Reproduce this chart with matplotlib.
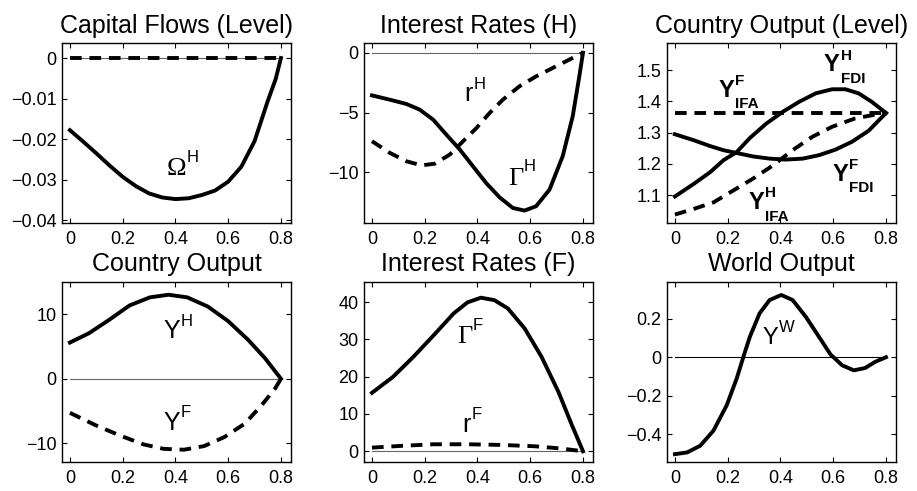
import numpy as np
import matplotlib
matplotlib.use('Agg')
import matplotlib.pyplot as plt

plt.rcParams.update({'font.family': 'Liberation Sans', 'font.size': 13,
                     'xtick.direction': 'in', 'ytick.direction': 'in',
                     'xtick.top': True, 'ytick.right': True,
                     'xtick.major.size': 3.5, 'ytick.major.size': 3.5,
                     'axes.linewidth': 1.0})

# Capital flows (level)
cf_x = [0, 0.05, 0.1, 0.15, 0.2, 0.25, 0.3, 0.35, 0.4, 0.45, 0.5, 0.55, 0.6, 0.65, 0.7, 0.75, 0.78, 0.8]
omega_h = [-0.0178, -0.0206, -0.0235, -0.0265, -0.0293, -0.0316, -0.0334, -0.0344, -0.0348, -0.0346,
           -0.0338, -0.0327, -0.0305, -0.0268, -0.0205, -0.0106, -0.0052, 0.0]
cf_dash = [0.0] * len(cf_x)

# Interest rates (H)
gh_x = [0, 0.068, 0.131, 0.181, 0.232, 0.282, 0.333, 0.383, 0.433, 0.484, 0.534, 0.578, 0.622,
        0.673, 0.723, 0.761, 0.786, 0.8]
gamma_h = [-3.57, -3.93, -4.29, -4.76, -5.6, -6.85, -8.1, -9.5, -10.9, -12.1, -12.98, -13.2, -12.84,
           -11.45, -8.66, -5.32, -1.98, 0.0]
rh_x = [0, 0.068, 0.131, 0.188, 0.238, 0.295, 0.345, 0.396, 0.446, 0.496, 0.559, 0.622, 0.685, 0.748, 0.8]
r_h = [-7.4, -8.38, -9.08, -9.42, -9.28, -8.52, -7.41, -6.3, -5.04, -3.93, -2.81, -1.98, -1.28, -0.58, 0.0]

# Country output (level)
yhi_x = [0, 0.071, 0.146, 0.221, 0.296, 0.371, 0.446, 0.521, 0.596, 0.684, 0.8]
y_h_ifa = [1.038, 1.056, 1.077, 1.115, 1.153, 1.195, 1.244, 1.287, 1.319, 1.346, 1.364]
yfi_x = [0, 0.8]
y_f_ifa = [1.364, 1.364]
yhf_x = [0, 0.071, 0.134, 0.184, 0.234, 0.284, 0.346, 0.409, 0.471, 0.534, 0.596, 0.646, 0.696, 0.746, 0.8]
y_h_fdi = [1.096, 1.136, 1.174, 1.212, 1.238, 1.283, 1.329, 1.367, 1.399, 1.426, 1.439, 1.439, 1.426,
           1.399, 1.363]
yff_x = [0, 0.071, 0.134, 0.184, 0.234, 0.296, 0.359, 0.421, 0.484, 0.546, 0.609, 0.671, 0.734, 0.8]
y_f_fdi = [1.295, 1.276, 1.257, 1.244, 1.235, 1.224, 1.217, 1.214, 1.217, 1.228, 1.246, 1.271, 1.306, 1.363]

# Country output
yh_x = [0, 0.072, 0.149, 0.226, 0.303, 0.374, 0.445, 0.522, 0.599, 0.676, 0.74, 0.8]
y_h = [5.63, 7.08, 9.17, 11.4, 12.66, 13.07, 12.66, 11.25, 9.0, 6.04, 3.18, 0.0]
yf_x = [0, 0.098, 0.188, 0.278, 0.355, 0.432, 0.509, 0.586, 0.663, 0.727, 0.778, 0.8]
y_f = [-5.3, -7.24, -8.8, -10.2, -10.9, -11.04, -10.47, -9.06, -6.98, -4.11, -1.51, 0.0]

# Interest rates (F)
gf_x = [0, 0.08, 0.157, 0.234, 0.31, 0.362, 0.413, 0.464, 0.515, 0.579, 0.643, 0.707, 0.758, 0.8]
gamma_f = [15.66, 19.96, 25.3, 31.1, 36.96, 39.9, 41.16, 40.5, 38.3, 32.9, 25.3, 15.9, 7.0, 0.0]
rf_x = [0, 0.106, 0.234, 0.362, 0.49, 0.618, 0.72, 0.8]
r_f = [0.98, 1.43, 1.88, 1.88, 1.7, 1.34, 0.72, 0.0]

# World output
yw_x = [0, 0.046, 0.096, 0.146, 0.196, 0.234, 0.259, 0.284, 0.321, 0.359, 0.403, 0.446, 0.496,
        0.546, 0.59, 0.634, 0.678, 0.721, 0.759, 0.8]
y_w = [-0.503, -0.494, -0.459, -0.381, -0.25, -0.111, 0.0, 0.106, 0.228, 0.297, 0.323, 0.297, 0.21,
       0.106, 0.014, -0.042, -0.068, -0.056, -0.024, 0.0]

LW = 2.8
DASH = (3, 2)


def lab(ax, x, y, base, sup, sub=None, fam='Liberation Sans', size=18, ssize=12, weight='normal'):
    t = ax.text(x, y, base, family=fam, fontsize=size, weight=weight, ha='left', va='baseline')
    ax.annotate(sup, xy=(1.0, 0.0), xycoords=t, xytext=(0.5, 0.7 * size), textcoords='offset points',
                ha='left', va='baseline', fontsize=ssize, weight=weight)
    if sub:
        ax.annotate(sub, xy=(1.0, 0.0), xycoords=t, xytext=(0.5, -4.8), textcoords='offset points',
                    ha='left', va='baseline', fontsize=ssize, weight=weight)


def zero(ax, color='0.4'):
    ax.plot([0, 0.8], [0, 0], color=color, lw=0.8, zorder=1)


fig = plt.figure(figsize=(9.17, 4.91), dpi=100)
lefts = [0.0676, 0.397, 0.7274]
bots = [0.5458, 0.0597]
W, H = 0.2497, 0.3666
axs = [[fig.add_axes([l, b, W, H]) for l in lefts] for b in bots]
for row in axs:
    for ax in row:
        ax.set_xlim(-0.03, 0.838)
        ax.set_xticks([0, 0.2, 0.4, 0.6, 0.8])
        ax.set_xticklabels(['0', '0.2', '0.4', '0.6', '0.8'])
        ax.tick_params(axis='x', pad=6)
        ax.tick_params(axis='y', pad=4)

# Panel 1
ax = axs[0][0]
zero(ax)
ax.plot(cf_x, cf_dash, 'k', lw=LW, dashes=DASH)
ax.plot(cf_x, omega_h, 'k', lw=LW)
ax.set_ylim(-0.0407, 0.0037)
ax.set_yticks([0, -0.01, -0.02, -0.03, -0.04])
ax.set_yticklabels(['0', '\u22120.01', '\u22120.02', '\u22120.03', '\u22120.04'])
ax.set_title('Capital Flows (Level)', fontsize=18, pad=7)
lab(ax, 0.367, -0.0289, '\u03a9', 'H', fam='Liberation Serif', size=19)

# Panel 2
ax = axs[0][1]
zero(ax)
ax.plot(rh_x, r_h, 'k', lw=LW, dashes=DASH)
ax.plot(gh_x, gamma_h, 'k', lw=LW)
ax.set_ylim(-14.24, 0.81)
ax.set_yticks([0, -5, -10])
ax.set_yticklabels(['0', '\u22125', '\u221210'])
ax.set_title('Interest Rates (H)', fontsize=18, pad=7)
lab(ax, 0.351, -4.07, 'r', 'H')
lab(ax, 0.515, -11.03, '\u0393', 'H', fam='Liberation Serif', size=19)

# Panel 3
ax = axs[0][2]
ax.plot(yfi_x, y_f_ifa, 'k', lw=LW, dashes=DASH)
ax.plot(yhi_x, y_h_ifa, 'k', lw=LW, dashes=DASH)
ax.plot(yhf_x, y_h_fdi, 'k', lw=LW)
ax.plot(yff_x, y_f_fdi, 'k', lw=LW)
ax.set_ylim(1.011, 1.587)
ax.set_yticks([1.1, 1.2, 1.3, 1.4, 1.5])
ax.set_title('Country Output (Level)', fontsize=18, pad=7)
lab(ax, 0.165, 1.415, 'Y', 'F', 'IFA', size=17, ssize=11, weight='bold')
lab(ax, 0.565, 1.496, 'Y', 'H', 'FDI', size=17, ssize=11, weight='bold')
lab(ax, 0.596, 1.147, 'Y', 'F', 'FDI', size=17, ssize=11, weight='bold')
lab(ax, 0.2775, 1.056, 'Y', 'H', 'IFA', size=17, ssize=11, weight='bold')

# Panel 4
ax = axs[1][0]
zero(ax)
ax.plot(yh_x, y_h, 'k', lw=LW)
ax.plot(yf_x, y_f, 'k', lw=LW, dashes=DASH)
ax.set_ylim(-12.9, 15.1)
ax.set_yticks([-10, 0, 10])
ax.set_yticklabels(['\u221210', '0', '10'])
ax.set_title('Country Output', fontsize=18, pad=8)
lab(ax, 0.355, 6.3, 'Y', 'H')
lab(ax, 0.355, -7.97, 'Y', 'F')

# Panel 5
ax = axs[1][1]
zero(ax)
ax.plot(gf_x, gamma_f, 'k', lw=LW)
ax.plot(rf_x, r_f, 'k', lw=LW, dashes=DASH)
ax.set_ylim(-2.79, 45.45)
ax.set_yticks([0, 10, 20, 30, 40])
ax.set_title('Interest Rates (F)', fontsize=18, pad=8)
lab(ax, 0.323, 28.9, '\u0393', 'F', fam='Liberation Serif', size=19)
lab(ax, 0.342, 5.19, 'r', 'F')

# Panel 6
ax = axs[1][2]
zero(ax, color='k')
ax.plot(yw_x, y_w, 'k', lw=LW)
ax.set_ylim(-0.542, 0.392)
ax.set_yticks([-0.4, -0.2, 0, 0.2])
ax.set_yticklabels(['\u22120.4', '\u22120.2', '0', '0.2'])
ax.set_title('World Output', fontsize=18, pad=8)
lab(ax, 0.331, 0.071, 'Y', 'W', size=17)

fig.savefig('out.png', dpi=100)
